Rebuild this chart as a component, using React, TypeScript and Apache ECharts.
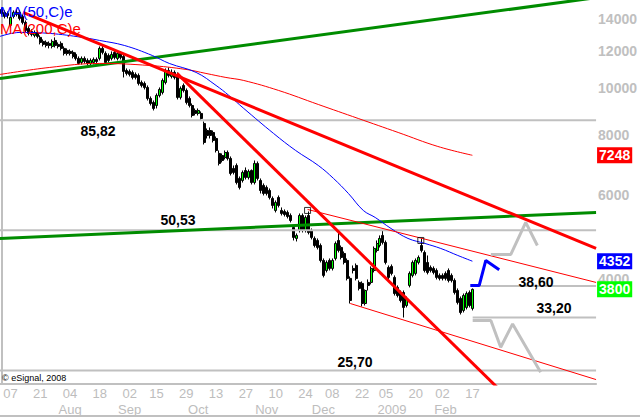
import React, { useEffect, useRef } from 'react';
import * as echarts from 'echarts';

// ---------- categories (trading days) ----------
const HOLIDAYS = ['2008-07-04', '2008-09-01', '2008-11-27', '2008-12-25', '2009-01-01', '2009-01-19', '2009-02-16', '2009-04-10'];
function tradingDays(start: string, count: number): string[] {
  const out: string[] = [];
  const d = new Date(start + 'T00:00:00Z');
  while (out.length < count) {
    const wd = d.getUTCDay();
    const s = d.toISOString().slice(0, 10);
    if (wd !== 0 && wd !== 6 && HOLIDAYS.indexOf(s) < 0) out.push(s);
    d.setUTCDate(d.getUTCDate() + 1);
  }
  return out;
}
const categories = tradingDays('2008-07-01', 200);

// ---------- tick labels ----------
const dayTickDates = ['2008-07-07', '2008-07-21', '2008-08-04', '2008-08-18', '2008-09-02', '2008-09-15', '2008-09-29', '2008-10-13', '2008-10-27', '2008-11-10', '2008-11-24', '2008-12-08', '2008-12-22', '2009-01-05', '2009-01-20', '2009-02-02', '2009-02-17'];
const monthTickDates = ['2008-08-04', '2008-09-02', '2008-10-03', '2008-11-05', '2008-12-03', '2009-01-07', '2009-02-03'];
const monthTickNames = ['Aug', 'Sep', 'Oct', 'Nov', 'Dec', '2009', 'Feb'];
const yTicks = [4000, 6000, 8000, 10000, 12000, 14000];
const Y_MIN = 2409;
const Y_MAX = 15312;

// ---------- OHLC ----------
const opens = [14630, 14424, 14354, 13548, 14148, 14424, 14424, 14148, 13746, 13354, 13161, 12911, 13099, 12788, 12543, 12483, 12423, 12245, 12603, 12363, 12423, 12128, 12011, 11953, 11896, 11780, 11556, 11336, 11556, 11445, 11281, 11336, 11500, 11556, 12128, 11838, 11722, 11556, 11896, 11556, 11838, 11667, 10907, 10855, 10803, 10698, 10646, 10293, 10244, 10049, 9530, 9348, 9213, 9669, 9810, 10293, 10907, 10595, 10803, 10646, 9577, 10146, 9904, 9530, 9213, 8995, 8866, 8866, 8449, 8167, 8167, 8090, 7859, 7312, 7241, 7173, 7347, 7138, 6803, 6901, 6483, 6420, 6737, 6514, 6737, 6357, 6969, 6420, 6268, 6208, 6118, 5888, 5557, 5916, 5557, 5530, 5504, 5424, 5120, 4856, 5046, 5424, 5046, 5424, 5046, 4856, 4809, 4694, 4368, 4162, 4368, 4203, 4410, 4809, 4650, 4517, 4368, 4006, 4203, 4264, 3929, 3910, 3550, 3929, 3929, 4162, 4583, 4694, 4927, 4763, 4223, 4244, 4025, 3836, 3743, 3743, 3516, 3873, 4064, 4103, 4326, 4694, 4539, 4326, 4223, 4203, 4162, 4064, 4064, 4103, 4162, 4064, 3967, 3780, 3637, 3433, 3483, 3743, 3466];
const closes = [14350, 14148, 14215, 14080, 14424, 14285, 14013, 13746, 13224, 13036, 12974, 13099, 12849, 12483, 12363, 12303, 12303, 12543, 12303, 12245, 12128, 11838, 11838, 11838, 11667, 11556, 11281, 11556, 11390, 11281, 11445, 11500, 11390, 12128, 11896, 11336, 11445, 11780, 11611, 11838, 11611, 10855, 10751, 10698, 10544, 10544, 10244, 10146, 10049, 9530, 9303, 9082, 9669, 9952, 10392, 10907, 10646, 10803, 10544, 9577, 10000, 9904, 9348, 9213, 8780, 8866, 8995, 8654, 7710, 7974, 7974, 7784, 7418, 6969, 7070, 7347, 7138, 6641, 6672, 6357, 6208, 6672, 6514, 6705, 6357, 6969, 6483, 6118, 6031, 6031, 5916, 5692, 5775, 5692, 5477, 5450, 5398, 5295, 4880, 4927, 5424, 5046, 5372, 4998, 4880, 4694, 4650, 4368, 4064, 4326, 4203, 4368, 4740, 4583, 4431, 4326, 4006, 3602, 4162, 4006, 3817, 3550, 3780, 3873, 4203, 4628, 4740, 4856, 4763, 4326, 4025, 4103, 3725, 3689, 3602, 3483, 3637, 4103, 4326, 4368, 4431, 4583, 4162, 4123, 4162, 4123, 4025, 4006, 4006, 4006, 3967, 3967, 3743, 3568, 3400, 3689, 3725, 3516, 3800];
const lows = [14215, 14013, 14013, 13418, 14013, 14148, 13878, 13614, 13099, 12911, 12849, 12788, 12726, 12363, 12245, 12186, 12128, 12128, 12186, 12128, 12011, 11722, 11722, 11722, 11556, 11445, 11226, 11226, 11281, 11171, 11171, 11226, 11281, 11445, 11780, 11226, 11336, 11445, 11500, 11445, 11500, 10544, 10646, 10595, 10443, 10443, 10146, 10049, 9952, 9438, 9213, 8995, 9082, 9577, 9716, 10195, 10544, 10494, 10443, 9484, 9484, 9810, 9258, 9126, 8696, 8780, 8780, 8571, 7636, 7859, 7859, 7710, 7347, 6901, 7002, 7104, 7070, 6577, 6609, 6298, 6148, 6357, 6451, 6451, 6298, 6298, 6420, 6031, 5973, 5973, 5859, 5611, 5504, 5638, 5424, 5398, 5347, 5245, 4809, 4786, 4998, 4998, 4998, 4951, 4833, 4650, 4605, 4326, 4025, 4123, 4162, 4162, 4368, 4539, 4389, 4285, 3967, 3550, 4103, 3967, 3780, 3499, 3516, 3780, 3892, 4123, 4539, 4650, 4717, 4285, 3986, 4064, 3689, 3655, 3568, 3318, 3483, 3836, 4025, 4064, 4285, 4539, 4123, 4084, 4123, 4084, 3986, 3967, 3967, 3967, 3929, 3929, 3707, 3533, 3367, 3400, 3450, 3483, 3433];
const highs = [14775, 14563, 14493, 14215, 14563, 14634, 14563, 14285, 13878, 13483, 13289, 13224, 13224, 12911, 12665, 12603, 12543, 12665, 12788, 12483, 12543, 12245, 12128, 12069, 12011, 11896, 11667, 11667, 11667, 11556, 11556, 11611, 11611, 12245, 12303, 11953, 11838, 11953, 12069, 11953, 11953, 11838, 11013, 10960, 10907, 10803, 10751, 10392, 10343, 10146, 9623, 9438, 9763, 10049, 10494, 11013, 11066, 10960, 10907, 10803, 10097, 10244, 10000, 9623, 9303, 9082, 9082, 8952, 8530, 8247, 8287, 8167, 7936, 7418, 7312, 7418, 7418, 7207, 6901, 6969, 6545, 6737, 6836, 6770, 6770, 7070, 7036, 6483, 6329, 6268, 6178, 5945, 5831, 5973, 5638, 5584, 5557, 5477, 5170, 4975, 5477, 5477, 5424, 5530, 5095, 4903, 4856, 4740, 4410, 4368, 4410, 4410, 4786, 4998, 4694, 4561, 4410, 4045, 4264, 4305, 3967, 3948, 3799, 3986, 4244, 4672, 4809, 4927, 5046, 4809, 4264, 4285, 4064, 3873, 3780, 3780, 3672, 4143, 4368, 4410, 4474, 4856, 4583, 4474, 4264, 4244, 4203, 4103, 4103, 4143, 4203, 4103, 4006, 3817, 3672, 3725, 3762, 3780, 3817];

// ---------- moving averages: [bar index, value] ----------
const ma50 = [[-0.5, 12849], [6.2, 13099], [16.2, 13036], [27.2, 12788], [32.9, 12603], [41.2, 12303], [50.6, 11722], [56.3, 11281], [65.3, 10803], [72, 10146], [76.3, 9669], [81.3, 9082], [91.3, 8051], [98.7, 7418], [106.3, 6901], [111.4, 6483], [116.4, 6031], [121.4, 5557], [125.4, 5372], [130.7, 5095], [136.4, 4856], [142.1, 4740], [147.4, 4627], [153.1, 4474], [158, 4352]];
const ma200 = [[-0.5, 10697], [16.2, 11066], [32.9, 11281], [49.6, 11171], [61.9, 10960], [68.6, 10751], [75.3, 10544], [81.3, 10392], [93, 9904], [106.3, 9258], [119.7, 8654], [133.1, 8090], [146.4, 7563], [158, 7248]];

// ---------- drawn trend lines: [bar index, value] ----------
const greenUpper = [[-0.5, 10494], [199.5, 15484]];
const greenLower = [[-0.5, 4856], [199.5, 5504]];
const redTrend1 = [[7.2, 14424], [199.5, 4627]];
const redTrend2 = [[58.9, 10751], [170.8, 2225]];
const channelUpper = [[102.7, 5584], [199.5, 3929]];
const channelLower = [[117, 3550], [199.5, 2461]];

// ---------- horizontal levels ----------
const levelValues = [8582, 5053, 3860, 3320, 2570];
const levelStart = [-0.5, -0.5, 158.7, 158.1, -0.5];

// ---------- projections ----------
const projBlue = [[157.3, 3873], [160.3, 3873], [162.5, 4368], [167, 4177]];
const projGrayUp = [[164.2, 4496], [170.9, 4496], [175.9, 5245], [179.8, 4694]];
const projGrayDown = [[158.1, 3270], [164.2, 3270], [167.5, 2875], [171.5, 3218], [180.9, 2549]];
const swingMarkers = [[102.7, 5557], [140.7, 4809]];

const FONT = 'Arial, "Liberation Sans", sans-serif';

export default function App() {
  const ref = useRef<HTMLDivElement>(null);
  useEffect(() => {
    document.body.style.margin = '0';
    if (!ref.current) return;
    const chart = echarts.init(ref.current, null, { renderer: 'svg' });
    const daySet = new Set(dayTickDates);
    const monthMap = new Map<string, string>();
    monthTickDates.forEach((d, i) => monthMap.set(d, monthTickNames[i]));
    const ohlc = opens.map((o, i) => [o, closes[i], lows[i], highs[i]]);

    const line = (name: string, pts: number[][], color: string, width: number, z = 4, smooth: any = false) => ({
      type: 'line', name, xAxisIndex: 2, yAxisIndex: 0, data: pts, symbol: 'none', showSymbol: false,
      smooth, lineStyle: { color, width }, itemStyle: { color }, silent: true, z, clip: true,
      emphasis: { disabled: true },
    });

    const lastMa200 = ma200[ma200.length - 1][1];
    const lastMa50 = ma50[ma50.length - 1][1];
    const lastClose = closes[closes.length - 1];
    const tagValues = [lastMa200, lastMa50, lastClose];
    const tagStyle = ['r', 'b', 'g'];
    const fmtLevel = (v: number) => (v / 100).toFixed(2).replace('.', ',');

    const levelSeries = levelValues.map((v, k) => line('level' + k, [[levelStart[k], v], [199.5, v]], '#c0c0c0', 2, 3));

    const txt = (text: string, x: number, y: number, font: string, fill: string, align = 'center') => ({
      type: 'text', x, y, z: 100, silent: true,
      style: { text, font, fill, textAlign: align, align, textVerticalAlign: 'middle', verticalAlign: 'middle' },
    });
    const tagRich = (bg: string) => ({ backgroundColor: bg, color: '#ffffff', fontWeight: 'bold', fontSize: 14, fontFamily: FONT, lineHeight: 14, padding: [1, 2, 1, 2] });

    chart.setOption({
      animation: false,
      backgroundColor: '#ffffff',
      grid: { left: 0, right: 41, top: 0, bottom: 34, containLabel: false },
      xAxis: [
        {
          type: 'category', data: categories, boundaryGap: true, position: 'bottom',
          axisLine: { show: true, lineStyle: { color: '#c0c0c0', width: 2 } },
          axisTick: { show: false }, splitLine: { show: false },
          axisLabel: {
            interval: (_i: number, v: string) => daySet.has(v),
            formatter: (v: string) => v.slice(8, 10),
            color: '#bdbdbd', fontSize: 13, fontFamily: FONT, margin: 3,
          },
        },
        {
          type: 'category', data: categories, boundaryGap: true, position: 'bottom',
          axisLine: { show: false }, axisTick: { show: false }, splitLine: { show: false },
          axisLabel: {
            interval: (_i: number, v: string) => monthMap.has(v),
            formatter: (v: string) => monthMap.get(v) || '',
            color: '#bdbdbd', fontSize: 13, fontFamily: FONT, margin: 19,
          },
        },
        { type: 'value', min: -0.5, max: 199.5, show: false },
      ],
      yAxis: [
        {
          type: 'log', logBase: 10, min: Y_MIN, max: Y_MAX, position: 'right',
          axisLine: { show: true, lineStyle: { color: '#c0c0c0', width: 2 } },
          axisTick: { show: false }, splitLine: { show: false }, minorTick: { show: false },
          axisLabel: {
            customValues: yTicks,
            formatter: (v: number) => String(Math.round(v)),
            color: '#c0c0c0', fontWeight: 'bold', fontSize: 14, fontFamily: FONT, margin: 2,
          },
        },
        {
          // value tags on the price scale: last MA200, MA50 and close
          type: 'log', logBase: 10, min: Y_MIN, max: Y_MAX, position: 'right', z: 5,
          axisLine: { show: false }, axisTick: { show: false }, splitLine: { show: false }, minorTick: { show: false },
          axisLabel: {
            customValues: tagValues,
            formatter: (v: number) => {
              const k = tagValues.findIndex((t) => Math.abs(t - v) < 0.5);
              return '{' + tagStyle[k < 0 ? 0 : k] + '|' + String(Math.round(v)) + '}';
            },
            margin: 1,
            rich: { r: tagRich('#ff0000'), b: tagRich('#0000ff'), g: tagRich('#00ff00') },
          },
        },
      ],
      series: [
        {
          type: 'candlestick', name: 'price', xAxisIndex: 0, yAxisIndex: 0, data: ohlc, barWidth: 2.5,
          itemStyle: { color: '#00ff00', color0: '#000000', borderColor: '#000000', borderColor0: '#000000', borderWidth: 1 },
          silent: true, z: 2, emphasis: { disabled: true },
        },
        ...levelSeries,
        line('greenUpper', greenUpper, '#008c00', 3, 4),
        line('greenLower', greenLower, '#008c00', 3, 4),
        line('ma200', ma200, '#ff0000', 1, 5, 0.4),
        line('ma50', ma50, '#0000ff', 1, 5, 0.4),
        line('redTrend1', redTrend1, '#ff0000', 3, 6),
        line('redTrend2', redTrend2, '#ff0000', 3, 6),
        line('channelUpper', channelUpper, '#ff0000', 1, 6),
        line('channelLower', channelLower, '#ff0000', 1, 6),
        line('projGrayUp', projGrayUp, '#c0c0c0', 3, 6),
        line('projGrayDown', projGrayDown, '#c0c0c0', 3, 6),
        line('projBlue', projBlue, '#0000ff', 3, 7),
        {
          type: 'scatter', name: 'swing', xAxisIndex: 2, yAxisIndex: 0, data: swingMarkers,
          symbol: 'rect', symbolSize: 6, silent: true, z: 8,
          itemStyle: { color: 'rgba(0,0,0,0)', borderColor: '#000000', borderWidth: 1 },
        },
      ],
      graphic: [
        txt('MA(50,C)e', 0, 11, '15px ' + FONT, '#0000ff', 'left'),
        txt('MA(200,C)e', 0, 28, '15px ' + FONT, '#ff0000', 'left'),
        txt(fmtLevel(levelValues[0]), 98, 131, 'bold 14px ' + FONT, '#000000'),
        txt(fmtLevel(levelValues[1]), 178, 220, 'bold 14px ' + FONT, '#000000'),
        txt(fmtLevel(levelValues[2]), 536, 282, 'bold 14px ' + FONT, '#000000'),
        txt(fmtLevel(levelValues[3]), 554, 308, 'bold 14px ' + FONT, '#000000'),
        txt(fmtLevel(levelValues[4]), 355, 362, 'bold 14px ' + FONT, '#000000'),
        txt('\u00a9 eSignal, 2008', 2, 378, '9px ' + FONT, '#000000', 'left'),
        {
          type: 'line', z: 100, silent: true,
          shape: { x1: 0, y1: 416, x2: 640, y2: 416 },
          style: { stroke: '#c0c0c0', lineWidth: 2 },
        },
      ],
    });
    return () => chart.dispose();
  }, []);
  return <div ref={ref} style={{ width: 640, height: 418 }} />;
}
